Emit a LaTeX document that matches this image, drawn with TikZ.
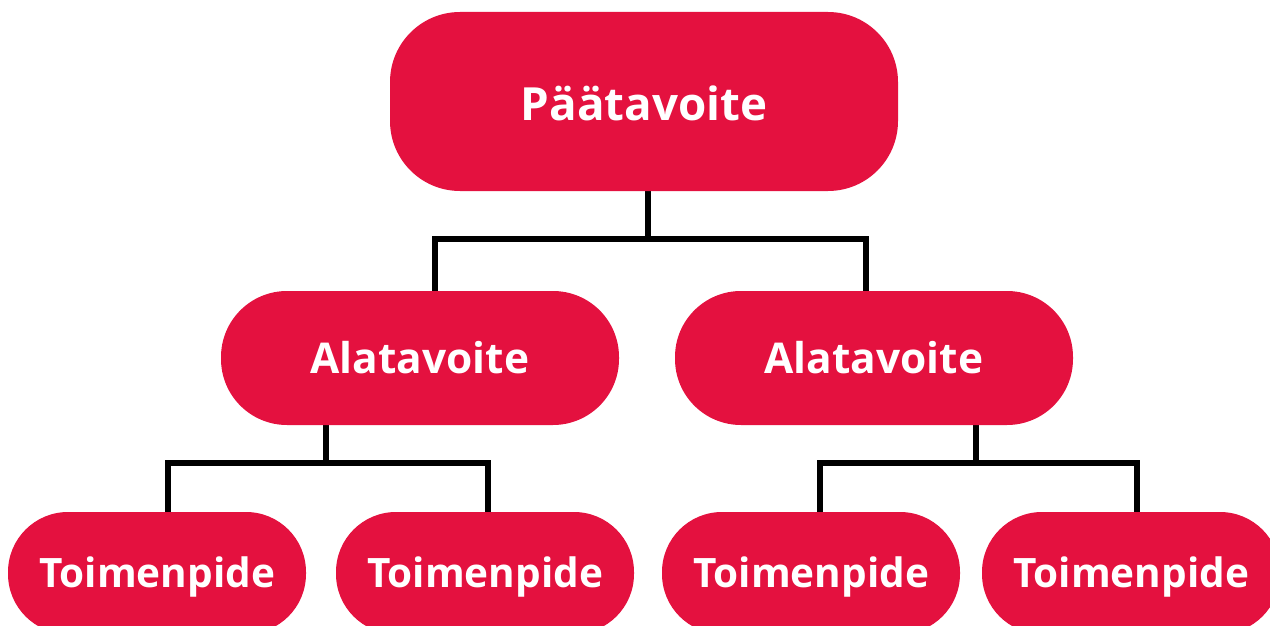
\documentclass[tikz,border=0pt]{standalone}
\usepackage{fontspec}
\setmainfont{Open Sans}
\definecolor{boxred}{HTML}{E4113F}
\pgfdeclarelayer{bg}
\pgfsetlayers{bg,main}
\newcommand{\lowertext}[2]{\raisebox{-#1}[\height][\depth]{#2}}
\begin{document}
\begin{tikzpicture}[x=1pt,y=-1pt,
  box/.style={fill=boxred,text=white,inner sep=0pt},
  topbox/.style={box,rectangle,rounded corners=70pt,minimum width=508pt,minimum height=179pt,font=\fontsize{45.7}{50}\selectfont\bfseries},
  midbox/.style={box,rectangle,rounded corners=66pt,minimum width=398pt,minimum height=134pt,font=\fontsize{42.4}{50}\selectfont\bfseries},
  lowbox/.style={box,rectangle,rounded corners=60pt,minimum width=298pt,minimum height=122pt,font=\fontsize{40.5}{50}\selectfont\bfseries},
  conn/.style={draw=black,line width=6pt}]
\useasboundingbox (0,0) rectangle (1270,626);
\node[topbox] (top) at (644,101.5) {\lowertext{1.5pt}{Päätavoite}};
\node[midbox] (midL) at (420,358) {Alatavoite};
\node[midbox] (midR) at (874,358) {Alatavoite};
\node[lowbox] (b1) at (157,573) {\lowertext{4pt}{Toimenpide}};
\node[lowbox] (b2) at (485,573) {\lowertext{4pt}{Toimenpide}};
\node[lowbox] (b3) at (811,573) {\lowertext{4pt}{Toimenpide}};
\node[lowbox] (b4) at (1131,573) {\lowertext{4pt}{Toimenpide}};
\coordinate (t1) at (648,239);
\coordinate (aL) at (435,239);
\coordinate (aR) at (866,239);
\coordinate (t2) at (326,463);
\coordinate (bL) at (168,463);
\coordinate (bR) at (488,463);
\coordinate (t3) at (976,463);
\coordinate (cL) at (820,463);
\coordinate (cR) at (1137,463);
\begin{pgfonlayer}{bg}
\draw[conn] (top.south -| t1) -- (t1);
\draw[conn] (midL.north -| aL) -- (aL) -- (aR) -- (midR.north -| aR);
\draw[conn] (midL.south -| t2) -- (t2);
\draw[conn] (b1.north -| bL) -- (bL) -- (bR) -- (b2.north -| bR);
\draw[conn] (midR.south -| t3) -- (t3);
\draw[conn] (b3.north -| cL) -- (cL) -- (cR) -- (b4.north -| cR);
\end{pgfonlayer}
\end{tikzpicture}
\end{document}
